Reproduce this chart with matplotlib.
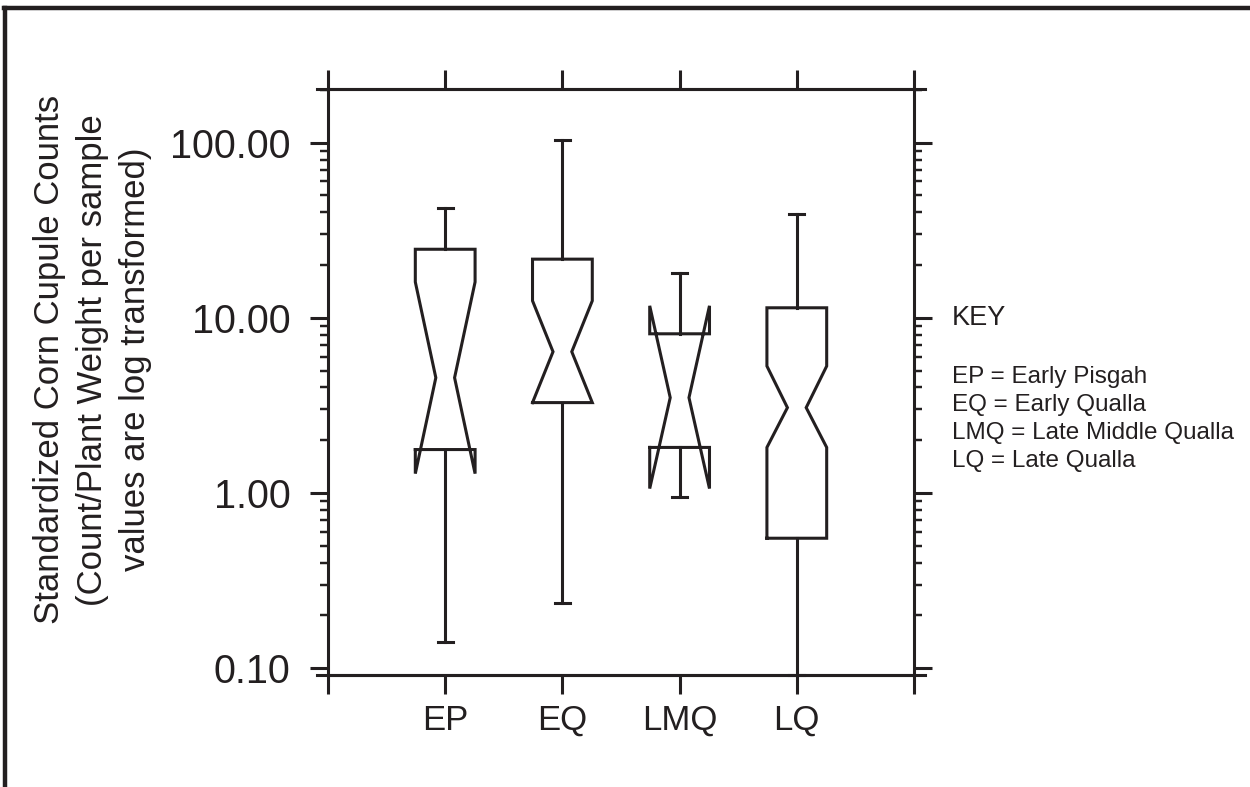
import numpy as np
import matplotlib.pyplot as plt
from matplotlib.lines import Line2D

plt.rcParams['font.family'] = ['Liberation Sans', 'DejaVu Sans']

# Box plot summary values (log scale)
groups = ['EP', 'EQ', 'LMQ', 'LQ']
positions = [1, 2, 3, 4]
whis_hi = [42.1, 104.0, 18.0, 38.9]
q3 = [24.6, 21.6, 8.1, 11.4]
notch_hi = [16.0, 12.5, 11.7, 5.3]
median = [4.55, 6.4, 3.5, 3.07]
notch_lo = [1.29, 3.28, 1.06, 1.82]
q1 = [1.77, 3.28, 1.82, 0.552]
whis_lo = [0.141, 0.235, 0.944, 0.092]

key_lines = ['EP = Early Pisgah', 'EQ = Early Qualla',
             'LMQ = Late Middle Qualla', 'LQ = Late Qualla']

ink = '#231f20'
lw = 2.2

fig = plt.figure(figsize=(12.5, 7.87), dpi=100)
ax = fig.add_axes([0.2624, 0.1423, 0.4688, 0.7446])

hw = 0.255   # half box width
hn = 0.08    # half width at the notch waist
hc = 0.065   # half cap width

for i, x in enumerate(positions):
    xs = [x - hw, x + hw, x + hw, x + hn, x + hw, x + hw, x - hw, x - hw, x - hn, x - hw, x - hw]
    ys = [q1[i], q1[i], notch_lo[i], median[i], notch_hi[i], q3[i], q3[i], notch_hi[i], median[i], notch_lo[i], q1[i]]
    ax.plot(xs, ys, color=ink, lw=lw, solid_joinstyle='miter', clip_on=False)
    # whiskers and caps
    ax.plot([x, x], [q3[i], whis_hi[i]], color=ink, lw=lw, clip_on=False)
    ax.plot([x, x], [q1[i], whis_lo[i]], color=ink, lw=lw, clip_on=False)
    ax.plot([x - hc, x + hc], [whis_hi[i]] * 2, color=ink, lw=lw, clip_on=False)
    ax.plot([x - hc, x + hc], [whis_lo[i]] * 2, color=ink, lw=lw, clip_on=False)

ax.set_yscale('log')
ax.set_ylim(0.0915, 202)
ax.set_xlim(0, 5)

ax.set_xticks(range(6))
ax.set_xticklabels([''] + groups + [''], fontsize=25, color=ink)
ax.set_yticks([0.1, 1, 10, 100])
ax.set_yticklabels(['0.10', '1.00', '10.00', '100.00'], fontsize=28.5, color=ink)

ax.tick_params(axis='x', which='major', direction='out', length=14, width=lw,
               top=True, bottom=True, pad=7, colors=ink)
ax.tick_params(axis='y', which='major', direction='out', length=13, width=lw,
               left=True, right=True, pad=14, colors=ink)
ax.tick_params(axis='y', which='minor', direction='out', length=6, width=lw * 0.8,
               left=True, right=True, colors=ink)

for s in ax.spines.values():
    s.set_linewidth(lw)
    s.set_color(ink)

# top and bottom frame lines run a little past the corners
for yy in (0, 1):
    ax.plot([-0.018, 1.018], [yy, yy], transform=ax.transAxes, color=ink,
            lw=lw, clip_on=False)

fig.text(0.074, 0.543,
         'Standardized Corn Cupule Counts\n(Count/Plant Weight per sample\nvalues are log transformed)',
         rotation=90, ha='center', va='center', multialignment='center',
         fontsize=25, color=ink, linespacing=1.4)

fig.text(0.7616, 1 - 318 / 787, 'KEY', fontsize=19.5, color=ink, va='center')
for j, line in enumerate(key_lines):
    fig.text(0.7616, 1 - (377 + 28 * j) / 787, line, fontsize=17.5, color=ink,
             va='center')

# border on top and left edge
fig.add_artist(Line2D([0.003, 1.0], [0.9899, 0.9899], color=ink, lw=3.2))
fig.add_artist(Line2D([0.004, 0.004], [0.0, 0.99], color=ink, lw=3.2))

fig.savefig('out.png', dpi=100)
